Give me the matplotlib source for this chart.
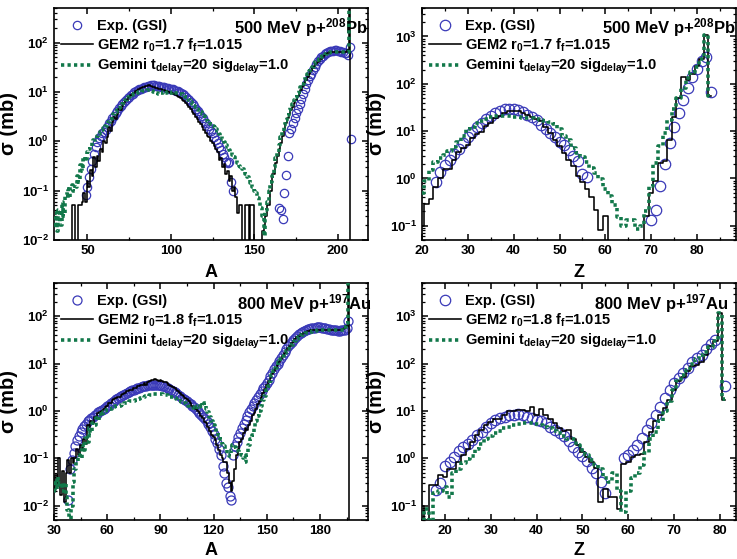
import numpy as np
import matplotlib
matplotlib.use('Agg')
import matplotlib.pyplot as plt
from matplotlib.ticker import MultipleLocator, LogLocator, NullFormatter

plt.rcParams['font.family'] = 'Liberation Sans'
plt.rcParams['font.weight'] = 'bold'
plt.rcParams['mathtext.fontset'] = 'custom'
plt.rcParams['mathtext.rm'] = 'Liberation Sans:bold'
plt.rcParams['mathtext.bf'] = 'Liberation Sans:bold'
plt.rcParams['mathtext.default'] = 'bf'
plt.rcParams['axes.linewidth'] = 1.2

BLUE = '#3a3ab8'
GREEN = '#12784a'

#%% 500 MeV p+208Pb, mass distribution
pb_a_exp_lo_start = 49
pb_a_exp_lo = [0.08, 0.12, 0.19, 0.28, 0.40, 0.55, 0.75, 0.95, 1.15, 1.30,
               1.45, 1.55, 1.70, 1.95, 2.3, 2.6, 3.0, 3.3, 3.7, 4.1,
               4.7, 5.1, 5.6, 6.2, 6.8, 7.4, 8.0, 8.6, 9.2, 9.8,
               10.3, 10.8, 11.2, 11.6, 12.0, 12.4, 12.7, 13.0, 13.3, 13.6,
               13.7, 13.5, 13.3, 13.2, 13.0, 12.8, 12.6, 12.4, 12.2, 12.0,
               11.7, 11.4, 11.2, 10.9, 10.6, 10.2, 9.8, 9.4, 9.0, 8.5,
               7.9, 7.3, 6.7, 6.2, 5.7, 5.1, 4.6, 4.1, 3.7, 3.3,
               2.9, 2.6, 2.3, 2.0, 1.8, 1.6, 1.45, 1.2, 1.05, 0.90,
               0.78, 0.65, 0.55, 0.48, 0.38, 0.36, 0.38, 0.15, 0.10]
pb_a_exp_hi_start = 165
pb_a_exp_hi = [0.045, 0.04, 0.027, 0.09, 0.21, 0.5, 1.45, 1.8, 2.3, 3.0,
               3.7, 4.6, 5.8, 7.3, 9.2, 11.6, 14.7, 17.5, 20.5, 23.5,
               28, 32, 37, 42, 46, 50, 54, 58, 61, 64,
               66, 67, 68, 69, 69, 68, 67, 65, 64, 62,
               60, 57, 80, 1.1]
pb_a_gem_start = 40
pb_a_gem = [0, 0.05, 0.05, 0, 0, 0.05, 0.05, 0.06, 0.09, 0.06,
            0.16, 0.12, 0.26, 0.2, 0.48, 0.3, 0.5, 0.4, 0.7, 0.6,
            1.0, 0.9, 1.2, 1.95, 1.6, 2.4, 3.1, 2.8, 3.6, 4.6,
            4.3, 5.2, 6.0, 6.7, 7.0, 8.0, 8.5, 9.2, 9.6, 10.5,
            11, 11.5, 12, 12.5, 12.8, 13, 13.3, 13.5, 13.2, 12.8,
            12.5, 12.2, 12, 11.5, 11.3, 11, 10.8, 10.5, 10.2, 10,
            9.6, 9.3, 9.0, 8.6, 8.3, 8.0, 7.4, 7.0, 6.4, 6.0,
            5.5, 5.0, 4.5, 4.0, 3.5, 3.1, 2.8, 2.4, 2.2, 1.95,
            1.7, 1.5, 1.3, 1.2, 1.0, 0.9, 0.8, 0.71, 0.6, 0.41,
            0.45, 0.3, 0.35, 0.22, 0.25, 0.16, 0.2, 0.1, 0.12, 0.075,
            0.035, 0.05, 0.05, 0, 0, 0.05, 0.05, 0, 0.05, 0.05,
            0, 0, 0, 0, 0, 0.015, 0.02, 0.03, 0.05, 0.05,
            0.1, 0.22, 0.22, 0.36, 0.5, 0.7, 0.9, 1.3, 1.8, 2.3,
            3.0, 3.6, 4.3, 5.0, 6.0, 7.0, 8.2, 9.3, 11, 13,
            15, 17, 20, 23, 26, 30, 33, 37, 40, 43,
            47, 51, 55, 59, 61, 63, 64, 64, 64, 64,
            64, 64, 64, 64, 64, 64, 70, 1500, 0]
pb_a_gemini_start = 30
pb_a_gemini = [0.02, 0.035, 0.015, 0.04, 0.02, 0.06, 0.03, 0.08, 0.11, 0.07,
               0.12, 0.13, 0.1, 0.12, 0.2, 0.15, 0.33, 0.25, 0.48, 0.4,
               0.6, 0.71, 0.8, 0.95, 1.05, 1.13, 1.25, 1.4, 1.55, 1.67,
               1.85, 2.05, 2.25, 2.45, 2.8, 3.1, 3.5, 3.9, 4.3, 4.8,
               5.3, 5.8, 6.2, 6.7, 7.3, 7.9, 8.3, 8.7, 9.0, 9.3,
               9.6, 9.9, 10.1, 10.3, 10.5, 10.6, 10.7, 10.7, 10.5, 10.2,
               10.0, 9.7, 9.5, 9.2, 9.6, 9.4, 9.8, 9.6, 9.9, 9.9,
               9.7, 9.8, 9.5, 9.4, 9.3, 9.2, 9.2, 9.0, 8.5, 7.9,
               7.4, 6.7, 6.2, 5.6, 5.2, 4.9, 4.6, 4.3, 3.9, 3.5,
               3.2, 2.9, 2.6, 2.4, 2.2, 2.0, 1.95, 1.8, 1.6, 1.4,
               1.25, 1.1, 0.95, 0.85, 0.75, 0.68, 0.6, 0.53, 0.48, 0.42,
               0.36, 0.32, 0.3, 0.27, 0.24, 0.22, 0.19, 0.17, 0.14, 0.12,
               0.1, 0.09, 0.07, 0.06, 0.045, 0.03, 0.012, 0.04, 0.06, 0.1,
               0.15, 0.2, 0.3, 0.45, 0.6, 0.85, 1.2, 1.6, 2.1, 2.7,
               3.4, 4.2, 5.0, 5.8, 6.8, 8.0, 9.3, 10.8, 12.5, 14.5,
               17, 20, 23, 26, 29, 32, 36, 40, 44, 47,
               50, 53, 56, 59, 61, 62, 63, 64, 64, 64,
               64, 64, 64, 64, 64, 64, 64, 1500]

#%% 500 MeV p+208Pb, charge distribution
pb_z_exp_lo_start = 23
pb_z_exp_lo = [0.85, 1.36, 1.9, 2.4, 3.3, 4.2, 5.6, 7.4, 9.6, 12,
               14.8, 17.8, 21, 24, 27, 29, 30, 30, 28, 25,
               22, 19.6, 17.3, 13.5, 11, 9.1, 7.5, 6, 5, 4,
               3, 2.3, 1.26, 1.07]
pb_z_exp_hi_start = 70
pb_z_exp_hi = [0.13, 0.22, 0.7, 2.0, 5.5, 12, 24.5, 46, 80, 140,
               210, 300, 360, 68]
pb_z_gem_start = 20
pb_z_gem = [0.1, 0.29, 0.36, 0.65, 1.0, 1.55, 1.55, 2.5, 3.7, 4.4,
            5.1, 7.2, 8.5, 9.8, 12.6, 15, 18.6, 21, 24, 26,
            27, 26, 24, 22, 20, 18, 16, 12.5, 9.1, 6.6,
            4.8, 3.5, 2.5, 1.8, 1.1, 0.85, 0.6, 0.4, 0.22, 0.08,
            0.16, 0, 0, 0, 0, 0, 0, 0, 0.05, 0.16,
            0.5, 0.9, 2.1, 2.3, 6.6, 20, 50, 140, 120, 160,
            240, 330, 1100, 55]
pb_z_gemini_start = 20
pb_z_gemini = [0.5, 0.9, 1.5, 2.2, 2.7, 3.2, 3.8, 4.6, 6, 8,
               11, 12.5, 14.5, 16, 18, 19.5, 20.5, 21, 21, 20.5,
               20, 19.5, 19, 19, 18.5, 18, 17, 16, 15.5, 14,
               11, 8, 6.5, 4.5, 3.5, 2.8, 2.2, 1.7, 1.3, 0.95,
               0.6, 0.42, 0.27, 0.15, 0.1, 0.13, 0.13, 0.085, 0.1, 0.2,
               0.7, 2.1, 4.8, 9, 17, 30, 50, 80, 130, 180,
               230, 330, 1100, 54]

#%% 800 MeV p+197Au, mass distribution
au_a_exp_lo_start = 38
au_a_exp_lo = [0.013, 0.06, 0.09, 0.13, 0.18, 0.24, 0.3, 0.36, 0.42, 0.48,
               0.54, 0.6, 0.65, 0.7, 0.76, 0.82, 0.88, 0.93, 0.98, 1.03,
               1.1, 1.18, 1.26, 1.35, 1.45, 1.55, 1.65, 1.75, 1.85, 1.95,
               2.05, 2.15, 2.3, 2.4, 2.5, 2.6, 2.7, 2.8, 2.9, 3.0,
               3.1, 3.2, 3.3, 3.35, 3.4, 3.45, 3.5, 3.55, 3.6, 3.6,
               3.6, 3.55, 3.5, 3.4, 3.3, 3.2, 3.05, 2.9, 2.8, 2.65,
               2.5, 2.35, 2.2, 2.05, 1.9, 1.8, 1.7, 1.6, 1.5, 1.4,
               1.3, 1.2, 1.1, 1.0, 0.92, 0.84, 0.75, 0.67, 0.6, 0.52,
               0.45, 0.38, 0.32, 0.26, 0.21, 0.16, 0.12, 0.07, 0.05, 0.03,
               0.025, 0.016, 0.013]
au_a_exp_hi_start = 131
au_a_exp_hi = [0.12, 0.18, 0.22, 0.28, 0.35, 0.43, 0.52, 0.65, 0.8, 0.95,
               1.1, 1.25, 1.45, 1.7, 2.0, 2.3, 2.6, 3.0, 3.4, 3.9,
               4.6, 5.4, 6.4, 7.5, 8.7, 10, 11.5, 13.3, 15.3, 17.5,
               20, 23, 26, 29, 32, 35, 38, 41, 44, 47,
               49, 51, 53, 54, 55, 56, 57, 58, 58, 58,
               57, 56, 55, 54, 53, 52, 51, 50, 50, 49,
               49, 50, 50, 52, 55, 80]
au_a_gem_start = 30
au_a_gem = [0.02, 0.045, 0.03, 0.1, 0.017, 0.055, 0.012, 0.05, 0.09, 0.05,
            0.1, 0.08, 0.1, 0.16, 0.12, 0.19, 0.15, 0.25, 0.2, 0.5,
            0.45, 0.6, 0.55, 0.75, 0.7, 0.9, 0.95, 1.0, 1.1, 1.2,
            1.3, 1.45, 1.5, 1.7, 1.75, 1.9, 2.0, 2.0, 2.2, 2.3,
            2.4, 2.6, 2.6, 2.8, 2.75, 3.0, 3.1, 3.3, 3.4, 3.5,
            3.6, 3.8, 3.5, 4.0, 4.2, 4.5, 4.6, 4.8, 4.5, 4.3,
            4.4, 4.2, 4.1, 4.1, 3.8, 3.6, 3.4, 3.2, 3.0, 2.75,
            2.6, 2.4, 2.2, 2.1, 1.9, 1.8, 1.6, 1.45, 1.3, 1.2,
            1.1, 1.0, 0.9, 0.8, 0.7, 0.59, 0.55, 0.45, 0.38, 0.31,
            0.28, 0.24, 0.19, 0.15, 0.12, 0.1, 0.085, 0.085, 0.05, 0.03,
            0.02, 0.034, 0.06, 0.12, 0.16, 0.22, 0.26, 0.35, 0.43, 0.4,
            0.5, 0.6, 0.81, 0.9, 1.1, 1.4, 1.6, 2.0, 2.4, 2.9,
            3.5, 4.2, 5.0, 6.0, 7.0, 8.2, 9.5, 11, 12.5, 14.5,
            16.5, 19, 21, 24, 27, 30, 33, 36, 39, 41,
            43, 45, 47, 48, 49, 50, 51, 51, 52, 52,
            52, 52, 52, 52, 52, 52, 52, 52, 52, 52,
            52, 52, 52, 53, 55, 62, 1500, 0]
au_a_gemini_start = 30
au_a_gemini = [0.03, 0.02, 0.04, 0.025, 0.03, 0.02, 0.03, 0.015, 0.008, 0.004,
               0.01, 0.032, 0.06, 0.085, 0.12, 0.1, 0.19, 0.15, 0.27, 0.22,
               0.43, 0.35, 0.55, 0.5, 0.7, 0.65, 0.85, 0.8, 0.95, 1.0,
               1.05, 1.1, 1.1, 1.15, 1.2, 1.25, 1.3, 1.3, 1.35, 1.4,
               1.45, 1.5, 1.55, 1.6, 1.6, 1.65, 1.7, 1.75, 1.8, 1.85,
               1.9, 2.0, 2.05, 2.1, 2.15, 2.2, 2.25, 2.3, 2.3, 2.3,
               2.3, 2.25, 2.2, 2.2, 2.15, 2.1, 2.0, 1.95, 1.9, 1.8,
               1.7, 1.65, 1.55, 1.5, 1.45, 1.4, 1.3, 1.25, 1.2, 1.15,
               1.1, 1.3, 1.2, 1.5, 1.3, 1.5, 1.1, 0.95, 0.75, 0.6,
               0.5, 0.45, 0.35, 0.31, 0.25, 0.2, 0.18, 0.16, 0.12, 0.11,
               0.15, 0.19, 0.17, 0.16, 0.14, 0.13, 0.12, 0.1, 0.085, 0.12,
               0.19, 0.25, 0.31, 0.45, 0.6, 0.8, 1.0, 1.3, 1.7, 2.1,
               2.7, 3.4, 4.3, 5.6, 6.8, 8.0, 9.3, 10.8, 12.5, 14.5,
               16.5, 18.5, 20.5, 23, 25, 28, 30, 33, 36, 38,
               40, 42, 44, 45, 46, 47, 48, 49, 49, 50,
               50, 50, 50, 50, 50, 50, 50, 50, 50, 50,
               50, 50, 50, 50, 59, 70, 1500]

#%% 800 MeV p+197Au, charge distribution
au_z_exp_lo_start = 18
au_z_exp_lo = [0.21, 0.3, 0.69, 0.85, 1.07, 1.45, 1.75, 2.05, 2.4, 3.1,
               3.6, 4.6, 5.5, 6.4, 7.0, 7.6, 8.3, 8.3, 8.5, 8.3,
               7.6, 7.0, 6.4, 6.0, 5.5, 4.6, 4.0, 3.4, 2.9, 2.3,
               1.75, 1.35, 1.1, 0.89, 0.62, 0.48, 0.31, 0.19]
au_z_exp_hi_z = [59, 60, 61, 62, 63, 64, 65, 66, 67, 68, 69,
                 70, 71, 72, 73, 74, 75, 76, 77, 78, 79, 81]
au_z_exp_hi = [1.0, 1.2, 1.5, 1.9, 2.7, 4.0, 5.5, 8.3, 12.4, 18.6, 28,
               39, 49, 63, 80, 107, 130, 155, 205, 260, 310, 33]
au_z_gem_start = 15
au_z_gem = [0.1, 0, 0.27, 0.27, 0.44, 0.4, 0.6, 0.6, 0.85, 1.17,
            1.6, 2.2, 3.1, 4.0, 5.0, 5.9, 6.9, 6.9, 8.3, 9.8,
            9.8, 10.5, 10.5, 9.8, 12.4, 8.3, 11, 8.3, 6.9, 5.5,
            4.3, 3.7, 4.0, 2.6, 1.9, 1.36, 1.07, 0.84, 0.62, 0.12,
            0.23, 0.15, 0.15, 0.085, 0.76, 0.84, 1.07, 1.17, 1.25, 2.2,
            3.6, 6, 8.3, 11.4, 17, 28, 42, 53, 68, 87,
            95, 110, 155, 230, 295, 1150, 17]
au_z_gemini_start = 15
au_z_gemini = [0, 0.085, 0, 0.19, 0.2, 0.25, 0.15, 0.5, 0.6, 0.8,
               0.95, 1.1, 1.6, 2.0, 2.6, 3.0, 3.4, 3.8, 4.3, 4.6,
               5.0, 5.3, 5.5, 5.5, 5.5, 5.2, 5.0, 4.6, 4.3, 3.8,
               3.4, 3.0, 2.6, 2.6, 1.9, 1.5, 1.17, 0.93, 0.72, 0.6,
               0.38, 0.32, 0.5, 0.2, 0.075, 0.2, 0.38, 0.5, 0.72, 1.3,
               2.5, 3.6, 6, 10, 16, 28, 42, 58, 74, 100,
               125, 150, 175, 220, 300, 1150, 18]


def xs(start, vals):
    return np.arange(start, start + len(vals))


def draw(ax, exp_parts, gem, gemini, ms, labels):
    for i, (x, y) in enumerate(exp_parts):
        ax.plot(x, y, 'o', mfc='none', mec=BLUE, ms=ms, mew=0.9,
                label=labels[0] if i == 0 else None, zorder=2)
    ax.step(gem[0], gem[1], where='mid', color='k', lw=1.15, label=labels[1], zorder=3)
    ax.step(gemini[0], gemini[1], where='mid', color=GREEN, lw=2.6,
            ls=(0, (0.9, 0.9)), label=labels[2], zorder=4)


def style(ax, xlim, ylim, major, minor, xlabel, title, title_x, xlab_y):
    ax.set_yscale('log', nonpositive='clip')
    ax.set_xlim(*xlim)
    ax.set_ylim(*ylim)
    ax.xaxis.set_major_locator(MultipleLocator(major))
    ax.xaxis.set_minor_locator(MultipleLocator(minor))
    ax.yaxis.set_major_locator(LogLocator(base=10, numticks=12))
    ax.yaxis.set_minor_locator(LogLocator(base=10, subs=np.arange(2, 10), numticks=12))
    ax.yaxis.set_minor_formatter(NullFormatter())
    ax.tick_params(which='both', direction='in', top=True, right=True, labelsize=9.5)
    ax.tick_params(which='major', length=4, width=1.1)
    ax.tick_params(which='minor', length=2, width=0.9)
    ax.set_xlabel(xlabel, fontsize=13, fontweight='bold')
    ax.xaxis.set_label_coords(0.5, xlab_y)
    ax.set_ylabel('σ (mb)', fontsize=14.5, fontweight='bold')
    ax.yaxis.set_label_coords(-0.115, 0.5)
    ax.text(title_x, 0.915, title, transform=ax.transAxes, ha='right', va='center',
            fontsize=12, fontweight='bold')
    ax.legend(loc='upper left', bbox_to_anchor=(0.0, 0.98), frameon=False,
              prop=dict(weight='bold', size=10.5), handlelength=2.2,
              handletextpad=0.3, labelspacing=0.22, borderaxespad=0.25, borderpad=0.2)


fig = plt.figure(figsize=(7.37, 5.59), dpi=100)
ax1 = fig.add_axes([0.0733, 0.5707, 0.4260, 0.4150])
ax2 = fig.add_axes([0.5726, 0.5707, 0.4260, 0.4150])
ax3 = fig.add_axes([0.0733, 0.0698, 0.4260, 0.4239])
ax4 = fig.add_axes([0.5726, 0.0698, 0.4260, 0.4239])

lab_pb = ['Exp. (GSI)', 'GEM2 r$_0$=1.7 f$_f$=1.015', 'Gemini t$_{delay}$=20 sig$_{delay}$=1.0']
lab_au = ['Exp. (GSI)', 'GEM2 r$_0$=1.8 f$_f$=1.015', 'Gemini t$_{delay}$=20 sig$_{delay}$=1.0']

draw(ax1,
     [(xs(pb_a_exp_lo_start, pb_a_exp_lo), pb_a_exp_lo),
      (xs(pb_a_exp_hi_start, pb_a_exp_hi), pb_a_exp_hi)],
     (xs(pb_a_gem_start, pb_a_gem), pb_a_gem),
     (xs(pb_a_gemini_start, pb_a_gemini), pb_a_gemini), 6, lab_pb)
style(ax1, (30, 218), (0.01, 500), 50, 25, 'A', '500 MeV p+$^{208}$Pb', 1.0, -0.105)

draw(ax2,
     [(xs(pb_z_exp_lo_start, pb_z_exp_lo), pb_z_exp_lo),
      (xs(pb_z_exp_hi_start, pb_z_exp_hi), pb_z_exp_hi)],
     (xs(pb_z_gem_start, pb_z_gem), pb_z_gem),
     (xs(pb_z_gemini_start, pb_z_gemini), pb_z_gemini), 7.5, lab_pb)
style(ax2, (20, 88.5), (0.05, 4000), 10, 5, 'Z', '500 MeV p+$^{208}$Pb', 1.0, -0.105)

draw(ax3,
     [(xs(au_a_exp_lo_start, au_a_exp_lo), au_a_exp_lo),
      (xs(au_a_exp_hi_start, au_a_exp_hi), au_a_exp_hi)],
     (xs(au_a_gem_start, au_a_gem), au_a_gem),
     (xs(au_a_gemini_start, au_a_gemini), au_a_gemini), 6.5, lab_au)
style(ax3, (30, 207), (0.005, 500), 30, 15, 'A', '800 MeV p+$^{197}$Au', 1.01, -0.095)

draw(ax4,
     [(xs(au_z_exp_lo_start, au_z_exp_lo), au_z_exp_lo),
      (np.array(au_z_exp_hi_z), au_z_exp_hi)],
     (xs(au_z_gem_start, au_z_gem), au_z_gem),
     (xs(au_z_gemini_start, au_z_gemini), au_z_gemini), 7.5, lab_au)
style(ax4, (15, 83.5), (0.05, 5000), 10, 5, 'Z', '800 MeV p+$^{197}$Au', 0.975, -0.095)

fig.savefig('out.png', dpi=100)
